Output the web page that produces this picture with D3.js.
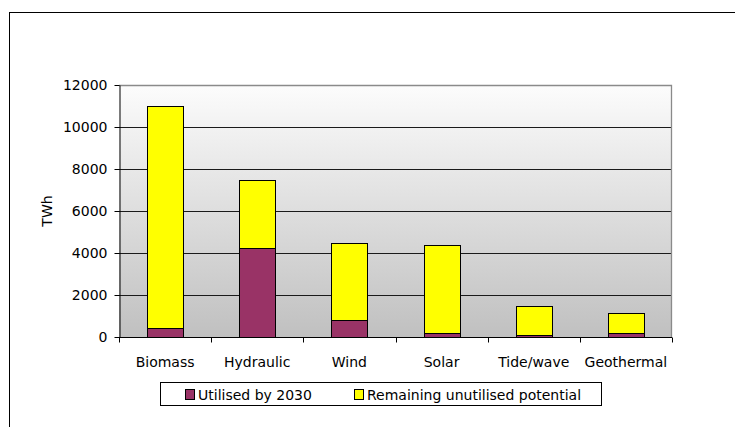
<!DOCTYPE html>
<html>
<head>
<meta charset="utf-8">
<script src="https://cdn.jsdelivr.net/npm/d3@7"></script>
<style>
  html, body { margin: 0; padding: 0; background: #fff; }
  svg { display: block; font-family: "DejaVu Sans", Verdana, sans-serif; }
</style>
</head>
<body>
<svg id="chart" width="735" height="427"></svg>
<script>
// Energy sources and their potential (TWh)
const categories = ["Biomass", "Hydraulic", "Wind", "Solar", "Tide/wave", "Geothermal"];
const utilised = [450, 4250, 800, 170, 100, 180];
const remaining = [10550, 3250, 3700, 4210, 1380, 940];
const seriesNames = ["Utilised by 2030", "Remaining unutilised potential"];
const seriesColors = ["#993366", "#ffff00"];
const yTicks = [0, 2000, 4000, 6000, 8000, 10000, 12000];

const FONT_SIZE = 14;
const svg = d3.select("#chart");

// outer chart frame (continues past the right and bottom edges)
svg.append("rect")
  .attr("x", 9.5).attr("y", 12.5)
  .attr("width", 760).attr("height", 440)
  .attr("fill", "#fff").attr("stroke", "#000").attr("stroke-width", 1);

const plot = { left: 119, top: 85, right: 672, bottom: 337 };

const x = d3.scaleBand()
  .domain(categories)
  .range([plot.left, plot.right])
  .paddingInner(0.61).paddingOuter(0.305);

const xCat = d3.scaleBand().domain(categories).range([plot.left, plot.right]);

const y = d3.scaleLinear().domain([0, 12000]).range([plot.bottom, plot.top]);

// plot background gradient
const defs = svg.append("defs");
const grad = defs.append("linearGradient")
  .attr("id", "bg").attr("x1", 0).attr("y1", 0).attr("x2", 0).attr("y2", 1);
grad.append("stop").attr("offset", "0%").attr("stop-color", "#fcfcfc");
grad.append("stop").attr("offset", "100%").attr("stop-color", "#c0c0c0");

svg.append("rect")
  .attr("x", plot.left).attr("y", plot.top)
  .attr("width", plot.right - plot.left).attr("height", plot.bottom - plot.top)
  .attr("fill", "url(#bg)");

// horizontal gridlines
svg.append("g")
  .selectAll("line")
  .data(yTicks.filter(d => d > 0 && d < 12000))
  .join("line")
  .attr("x1", plot.left).attr("x2", plot.right)
  .attr("y1", d => Math.round(y(d)) + 0.5).attr("y2", d => Math.round(y(d)) + 0.5)
  .attr("stroke", "#1a1a1a").attr("stroke-width", 1);

// plot frame (top and right edges)
svg.append("path")
  .attr("d", `M${plot.left},${plot.top + 0.5}H${plot.right - 0.5}V${plot.bottom}`)
  .attr("fill", "none").attr("stroke", "#8a8a8a").attr("stroke-width", 1.3);

// stacked bars
const stackData = categories.map((c, i) => ({ cat: c, u: utilised[i], r: remaining[i] }));
const stack = d3.stack().keys(["u", "r"])(stackData);

svg.append("g")
  .selectAll("g")
  .data(stack)
  .join("g")
  .attr("fill", (d, i) => seriesColors[i])
  .selectAll("rect")
  .data(d => d)
  .join("rect")
  .attr("x", d => Math.round(x(d.data.cat)) + 0.5)
  .attr("y", d => Math.round(y(d[1])) + 0.5)
  .attr("width", Math.round(x.bandwidth()))
  .attr("height", d => Math.round(y(d[0])) - Math.round(y(d[1])))
  .attr("stroke", "#000").attr("stroke-width", 1);

// y axis
const yAxis = svg.append("g")
  .attr("transform", `translate(${plot.left + 0.5},0)`)
  .call(d3.axisLeft(y).tickValues(yTicks).tickFormat(d3.format("d")).tickSize(5).tickSizeOuter(0));
yAxis.select(".domain").attr("stroke", "#000");
yAxis.selectAll(".tick line").attr("stroke", "#000");
yAxis.selectAll("text")
  .attr("font-family", "DejaVu Sans, Verdana, sans-serif")
  .attr("font-size", FONT_SIZE).attr("fill", "#000").attr("x", -12);

// x axis with ticks at category boundaries
const xAxisG = svg.append("g").attr("transform", `translate(0,${plot.bottom + 0.5})`);
xAxisG.append("line")
  .attr("x1", plot.left).attr("x2", plot.right)
  .attr("stroke", "#000");
const bounds = categories.map(c => xCat(c)).concat([plot.right]);
xAxisG.selectAll("line.tk")
  .data(bounds)
  .join("line")
  .attr("class", "tk")
  .attr("x1", d => Math.round(d) + 0.5).attr("x2", d => Math.round(d) + 0.5)
  .attr("y1", 0).attr("y2", 5)
  .attr("stroke", "#000");
xAxisG.selectAll("text")
  .data(categories)
  .join("text")
  .attr("x", d => xCat(d) + xCat.bandwidth() / 2)
  .attr("y", 29.5)
  .attr("text-anchor", "middle")
  .attr("font-size", FONT_SIZE)
  .text(d => d);

// y axis title
svg.append("text")
  .attr("transform", `translate(52,${(plot.top + plot.bottom) / 2}) rotate(-90)`)
  .attr("text-anchor", "middle")
  .attr("font-size", FONT_SIZE)
  .text("TWh");

// legend
const legend = svg.append("g");
legend.append("rect")
  .attr("x", 160.5).attr("y", 382.5).attr("width", 441).attr("height", 23)
  .attr("fill", "#fff").attr("stroke", "#000");
const legendItems = [
  { sx: 185, tx: 198 },
  { sx: 354, tx: 367 }
];
legend.selectAll("rect.sw")
  .data(seriesNames)
  .join("rect")
  .attr("class", "sw")
  .attr("x", (d, i) => legendItems[i].sx + 0.5).attr("y", 389.5)
  .attr("width", 9).attr("height", 10)
  .attr("fill", (d, i) => seriesColors[i]).attr("stroke", "#000");
legend.selectAll("text")
  .data(seriesNames)
  .join("text")
  .attr("x", (d, i) => legendItems[i].tx).attr("y", 399.5)
  .attr("font-size", FONT_SIZE)
  .text(d => d);
</script>
</body>
</html>
